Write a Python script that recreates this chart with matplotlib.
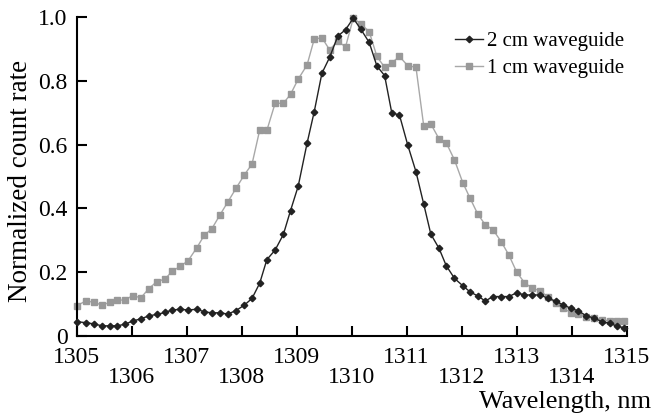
import matplotlib
matplotlib.use("Agg")
import matplotlib.pyplot as plt
from matplotlib.ticker import FixedLocator, FixedFormatter

wavelength = [1305.00, 1305.17, 1305.32, 1305.46, 1305.61, 1305.74, 1305.88, 1306.02, 1306.17, 1306.31,
              1306.46, 1306.61, 1306.74, 1306.89, 1307.03, 1307.19, 1307.32, 1307.46, 1307.61, 1307.75,
              1307.90, 1308.05, 1308.19, 1308.33, 1308.46, 1308.61, 1308.76, 1308.89, 1309.03, 1309.19,
              1309.32, 1309.46, 1309.60, 1309.75, 1309.89, 1310.03, 1310.17, 1310.32, 1310.46, 1310.60,
              1310.73, 1310.87, 1311.02, 1311.17, 1311.31, 1311.44, 1311.59, 1311.72, 1311.87, 1312.02,
              1312.15, 1312.29, 1312.43, 1312.57, 1312.72, 1312.86, 1313.00, 1313.14, 1313.28, 1313.43,
              1313.57, 1313.71, 1313.85, 1313.99, 1314.12, 1314.26, 1314.41, 1314.55, 1314.69, 1314.82,
              1314.95]

wg2cm = [0.044, 0.041, 0.037, 0.031, 0.031, 0.031, 0.036, 0.046, 0.053, 0.062,
         0.067, 0.073, 0.081, 0.083, 0.081, 0.083, 0.075, 0.072, 0.072, 0.068,
         0.079, 0.096, 0.117, 0.165, 0.239, 0.269, 0.318, 0.393, 0.470, 0.604,
         0.703, 0.824, 0.874, 0.941, 0.961, 0.997, 0.962, 0.921, 0.847, 0.817,
         0.700, 0.693, 0.599, 0.515, 0.414, 0.319, 0.274, 0.220, 0.180, 0.157,
         0.138, 0.125, 0.109, 0.123, 0.123, 0.123, 0.135, 0.128, 0.128, 0.128,
         0.117, 0.109, 0.096, 0.086, 0.078, 0.063, 0.055, 0.044, 0.039, 0.030,
         0.025]

wg1cm = [0.094, 0.109, 0.105, 0.096, 0.105, 0.112, 0.112, 0.126, 0.119, 0.147,
         0.170, 0.178, 0.203, 0.218, 0.236, 0.277, 0.315, 0.336, 0.380, 0.420,
         0.463, 0.505, 0.539, 0.646, 0.645, 0.730, 0.730, 0.758, 0.806, 0.850,
         0.931, 0.936, 0.898, 0.925, 0.907, 0.997, 0.979, 0.955, 0.877, 0.843,
         0.857, 0.877, 0.848, 0.843, 0.660, 0.665, 0.618, 0.606, 0.552, 0.481,
         0.433, 0.383, 0.348, 0.333, 0.295, 0.253, 0.200, 0.167, 0.149, 0.141,
         0.121, 0.104, 0.086, 0.072, 0.068, 0.060, 0.055, 0.049, 0.047, 0.047,
         0.047]

xticks_top = [1305, 1307, 1309, 1311, 1313, 1315]
xticks_low = [1306, 1308, 1310, 1312, 1314]
yticks = [0, 0.2, 0.4, 0.6, 0.8, 1.0]
ytick_labels = ["0", "0.2", "0.4", "0.6", "0.8", "1.0"]

plt.rcParams['font.family'] = ['Liberation Serif', 'DejaVu Serif']

fig = plt.figure(figsize=(6.53, 4.19), dpi=100)
ax = fig.add_axes([76.5 / 653, 1 - 335.7 / 419, 550.2 / 653, 318.4 / 419])

ax.plot(wavelength, wg1cm, color='#a8a8a8', lw=1.0, marker='s', ms=3.8,
        mfc='#999999', mec='#999999', clip_on=False, label='1 cm waveguide', zorder=2)
ax.plot(wavelength, wg2cm, color='#222222', lw=1.0, marker='D', ms=3.3,
        mfc='#222222', mec='#222222', clip_on=False, label='2 cm waveguide', zorder=3)

ax.set_xlim(1305, 1315)
ax.set_ylim(0, 1.0)

for s in ['top', 'right']:
    ax.spines[s].set_visible(False)
for s in ['left', 'bottom']:
    ax.spines[s].set_linewidth(1.5)

ax.xaxis.set_major_locator(FixedLocator(xticks_top))
ax.xaxis.set_major_formatter(FixedFormatter([str(t) for t in xticks_top]))
ax.xaxis.set_minor_locator(FixedLocator(xticks_low))
ax.xaxis.set_minor_formatter(FixedFormatter([str(t) for t in xticks_low]))
ax.set_yticks(yticks)
ax.set_yticklabels(ytick_labels)

ax.tick_params(axis='x', which='major', direction='in', length=7, width=1.5,
               labelsize=17, pad=8)
ax.tick_params(axis='x', which='minor', direction='in', length=7, width=1.5,
               labelsize=17, pad=22.5)
ax.tick_params(axis='y', direction='in', length=7, width=1.5, labelsize=17, pad=6.5)

ax.set_ylabel('Normalized count rate', fontsize=19.5)
ax.yaxis.set_label_coords(-0.079, 0.487)
ax.set_xlabel('Wavelength, nm', fontsize=19, ha='right', va='baseline')
ax.xaxis.set_label_coords(1.044, -0.227)

handles, labels = ax.get_legend_handles_labels()
leg = ax.legend(handles[::-1], labels[::-1], loc='upper left', frameon=False,
                fontsize=15, handlelength=1.35, handletextpad=0.2, labelspacing=0.36,
                borderpad=0, borderaxespad=0,
                bbox_to_anchor=(455 / 653, 1 - 31.5 / 419), bbox_transform=fig.transFigure)

fig.savefig('out.png', dpi=100)
